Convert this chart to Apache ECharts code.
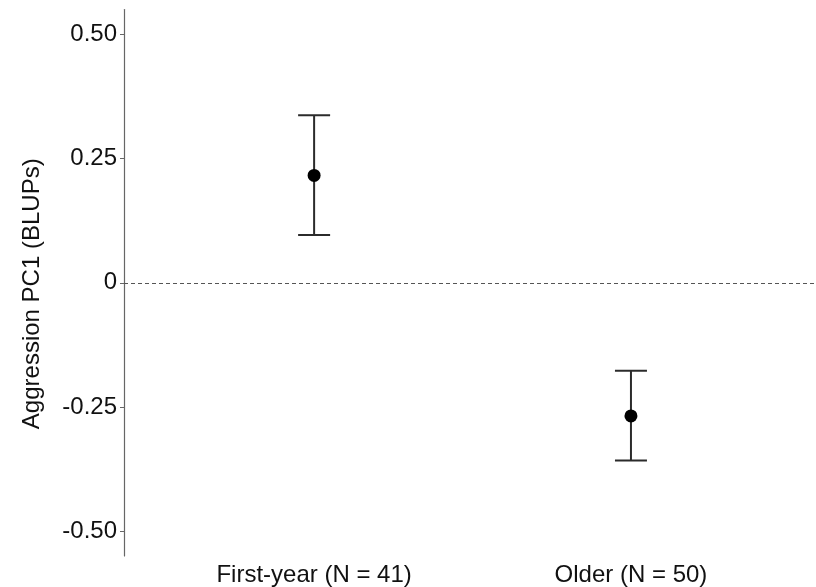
<!DOCTYPE html>
<html>
<head>
<meta charset="utf-8">
<script src="https://cdn.jsdelivr.net/npm/echarts@6/dist/echarts.min.js"></script>
<style>html,body{margin:0;padding:0;background:#fff;}#c{width:816px;height:587px;}</style>
</head>
<body>
<div id="c"></div>
<script>
const categories = ['First-year (N = 41)', 'Older (N = 50)'];
const means = [0.216, -0.268];
const upper = [0.337, -0.177];
const lower = [0.096, -0.358];
const yTicks = [-0.5, -0.25, 0, 0.25, 0.5];
const yTickLabels = ['-0.50', '-0.25', '0', '0.25', '0.50'];

const chart = echarts.init(document.getElementById('c'), null, {renderer: 'canvas'});
const font = '"Liberation Sans", Arial, sans-serif';
const errData = categories.map((c, i) => [i + 1, lower[i], upper[i]]);
const ptData = categories.map((c, i) => [i + 1, means[i]]);

chart.setOption({
  animation: false,
  backgroundColor: '#fff',
  grid: {left: 124, right: 0, top: 9.5, bottom: 30, containLabel: false},
  xAxis: {
    type: 'value', min: 0.4, max: 2.584,
    axisLine: {show: false}, axisTick: {show: false}, splitLine: {show: false},
    axisLabel: {
      customValues: [1, 2],
      formatter: v => categories[Math.round(v) - 1] || '',
      fontFamily: font, fontSize: 24, color: '#111', margin: 7
    }
  },
  yAxis: {
    type: 'value', min: -0.55, max: 0.55,
    name: 'Aggression PC1 (BLUPs)', nameLocation: 'middle', nameGap: 80,
    nameTextStyle: {fontFamily: font, fontSize: 24, color: '#111', padding: [0, 22, 0, 0]},
    axisLine: {show: true, lineStyle: {color: '#666', width: 1.2}},
    axisTick: {show: true, customValues: yTicks, length: 4, lineStyle: {color: '#666'}},
    splitLine: {show: false},
    axisLabel: {
      customValues: yTicks,
      formatter: v => { const i = yTicks.findIndex(t => Math.abs(t - v) < 1e-9); return i >= 0 ? yTickLabels[i] : ''; },
      fontFamily: font, fontSize: 24, color: '#111', margin: 7
    }
  },
  series: [
    {
      type: 'line', data: [], silent: true,
      markLine: {
        symbol: 'none', silent: true, label: {show: false},
        lineStyle: {type: [4, 3], color: '#555', width: 1},
        data: [{yAxis: 0}]
      }
    },
    {
      type: 'custom', silent: true,
      renderItem: function (params, api) {
        const x = api.value(0);
        const lo = api.coord([x, api.value(1)]);
        const hi = api.coord([x, api.value(2)]);
        const hw = 16;
        const style = {stroke: '#2b2b2b', lineWidth: 2};
        return {
          type: 'group',
          children: [
            {type: 'line', shape: {x1: lo[0], y1: lo[1], x2: hi[0], y2: hi[1]}, style},
            {type: 'line', shape: {x1: hi[0] - hw, y1: hi[1], x2: hi[0] + hw, y2: hi[1]}, style},
            {type: 'line', shape: {x1: lo[0] - hw, y1: lo[1], x2: lo[0] + hw, y2: lo[1]}, style}
          ]
        };
      },
      data: errData, z: 2
    },
    {
      type: 'scatter', data: ptData, symbol: 'circle', symbolSize: 13,
      itemStyle: {color: '#000', opacity: 1}, z: 3, silent: true
    }
  ]
});
</script>
</body>
</html>
